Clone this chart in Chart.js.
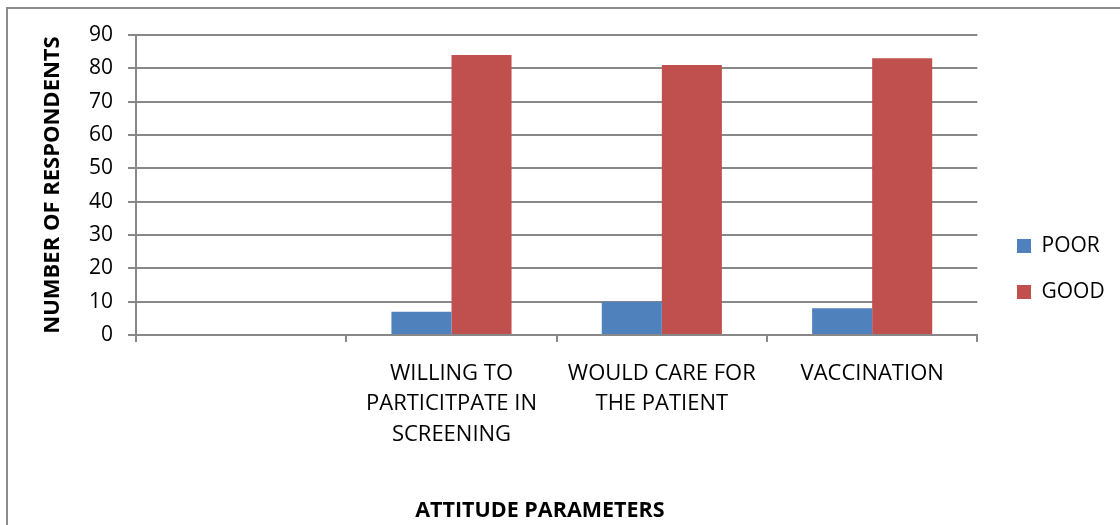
<!DOCTYPE html>
<html>
<head>
<meta charset="utf-8">
<script src="https://cdn.jsdelivr.net/npm/chart.js@4.4.1/dist/chart.umd.min.js"></script>
<style>
  html, body { margin: 0; padding: 0; background: #fff; overflow: hidden; }
  #wrap { position: relative; width: 1120px; height: 525px; }
  #frame {
    position: absolute; left: 6px; top: 7px; width: 1200px; height: 600px;
    border-left: 2px solid #8c8c8c; border-top: 2px solid #8c8c8c;
    pointer-events: none;
  }
</style>
</head>
<body>
<div id="wrap">
  <canvas id="chart_root" width="1120" height="525"></canvas>
  <div id="frame"></div>
</div>
<script>
// data
const categories = [
  '',
  ['WILLING TO', 'PARTICITPATE IN', 'SCREENING'],
  ['WOULD CARE FOR', 'THE PATIENT'],
  'VACCINATION'
];
const poorValues = [null, 7, 10, 8];
const goodValues = [null, 84, 81, 83];
const yMax = 90;
const yStep = 10;

const gridColor = '#888888';
const fontFamily = "'Open Sans', 'Noto Sans', sans-serif";

// put the legend where the original has it
const legendSpot = {
  id: 'legendSpot',
  afterLayout(chart) {
    const lg = chart.legend;
    const left = 992;
    const top = 210.5;
    lg.left = left;
    lg.right = left + lg.width;
    lg.top = top;
    lg.bottom = top + lg.height;
  }
};

const chartRootElt = document.getElementById('chart_root');

new Chart(chartRootElt, {
  type: 'bar',
  data: {
    labels: categories,
    datasets: [
      {
        label: 'POOR',
        data: poorValues,
        backgroundColor: '#4f81bd',
        borderWidth: 0
      },
      {
        label: 'GOOD',
        data: goodValues,
        backgroundColor: '#c0504d',
        borderWidth: 0
      }
    ]
  },
  options: {
    responsive: false,
    animation: false,
    layout: {
      padding: { top: 35, left: 40, right: 20, bottom: 0 }
    },
    datasets: {
      bar: {
        categoryPercentage: 0.571,
        barPercentage: 1
      }
    },
    plugins: {
      legend: {
        position: 'right',
        align: 'start',
        labels: {
          boxWidth: 14,
          boxHeight: 14,
          padding: 25,
          color: '#000',
          font: { family: fontFamily, size: 21 }
        }
      },
      tooltip: { enabled: false }
    },
    scales: {
      x: {
        grid: {
          offset: true,
          drawOnChartArea: false,
          tickLength: 7,
          color: gridColor,
          lineWidth: 2
        },
        border: { color: gridColor, width: 2 },
        ticks: {
          color: '#000',
          padding: 16,
          maxRotation: 0,
          autoSkip: false,
          font: { family: fontFamily, size: 22, lineHeight: 1.39 }
        },
        title: {
          display: true,
          text: 'ATTITUDE PARAMETERS      ',
          color: '#000',
          padding: { top: 0, bottom: 1 },
          font: { family: fontFamily, size: 21.5, weight: 'bold' }
        },
        afterFit(scale) {
          scale.height = 190;
        }
      },
      y: {
        min: 0,
        max: yMax,
        grid: {
          tickLength: 8,
          color: gridColor,
          lineWidth: 2
        },
        border: { color: gridColor, width: 2 },
        ticks: {
          stepSize: yStep,
          color: '#000',
          padding: 15,
          font: { family: fontFamily, size: 21 }
        },
        title: {
          display: true,
          text: 'NUMBER OF RESPONDENTS',
          color: '#000',
          padding: { top: 0, bottom: 0 },
          font: { family: fontFamily, size: 22, weight: 'bold' }
        },
        afterFit(scale) {
          scale.width = 96;
        }
      }
    }
  },
  plugins: [legendSpot]
});
</script>
</body>
</html>
